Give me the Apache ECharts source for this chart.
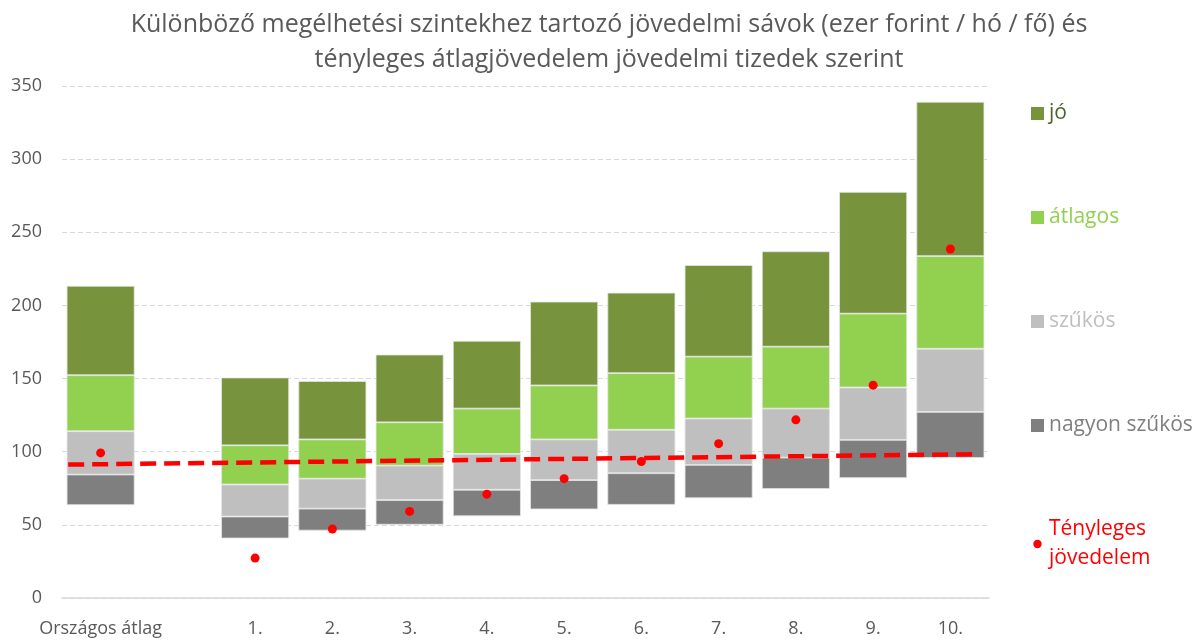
<!DOCTYPE html>
<html>
<head>
<meta charset="utf-8">
<title>Megélhetési szintek</title>
<script src="https://cdn.jsdelivr.net/npm/echarts@6/dist/echarts.min.js"></script>
<style>
  html, body { margin: 0; padding: 0; background: #fff; }
  #chart { width: 1200px; height: 640px; }
</style>
</head>
<body>
<div id="chart"></div>
<script>
// kategóriák (az üres elem a rés az országos átlag és az 1. tized között)
const categories = ["Országos átlag", "", "1.", "2.", "3.", "4.", "5.", "6.", "7.", "8.", "9.", "10."];

// sávhatárok, ezer Ft / hó / fő
const alsoHatar = [63.5, null, 40.7, 46.1, 50.1, 55.9, 60.6, 63.7, 68.2, 74.5, 82.0, 95.7];
const nagyonSzukosTeteje = [84.4, null, 55.7, 61.1, 67.0, 74.0, 80.6, 85.3, 91.0, 96.0, 108.1, 127.2];
const szukosTeteje = [114.0, null, 77.6, 81.6, 90.5, 98.5, 108.4, 115.0, 122.7, 129.5, 143.9, 170.4];
const atlagosTeteje = [152.3, null, 104.4, 108.4, 120.1, 129.5, 145.3, 153.7, 165.0, 171.8, 194.4, 233.7];
const joTeteje = [213.4, null, 150.7, 148.3, 166.4, 175.8, 202.6, 208.7, 227.6, 237.0, 277.6, 339.2];

// tényleges átlagjövedelem
const tenyleges = [99.2, null, 27.3, 47.2, 59.2, 71.0, 81.6, 93.3, 105.5, 121.8, 145.5, 238.6];

// szaggatott vonal két végpontja (kategória-pozíció, érték)
const vonalX = [-0.42, 11.33];
const vonalY = [91.2, 98.3];

const diff = (hi, lo) => hi.map((v, i) => (v == null ? "-" : +(v - lo[i]).toFixed(1)));
const orNull = (arr) => arr.map((v) => (v == null ? "-" : v));

const font = "'Open Sans', 'Liberation Sans', Arial, sans-serif";
const colors = {
  jo: "#77933C",
  atlagos: "#92D050",
  szukos: "#BFBFBF",
  nagyon: "#7F7F7F",
  piros: "#FF0000",
};
// kisebb pont a jelmagyarázatban: a láthatatlan sarokpontok adják a dobozt
const pontIkon = "path://M0 0M14 14M7 2.5A4.5 4.5 0 1 1 6.99 2.5Z";
const keret = { borderColor: "#E6E6E6", borderWidth: 0.8 };

const chart = echarts.init(document.getElementById("chart"));

chart.setOption({
  animation: false,
  textStyle: { fontFamily: font },
  title: {
    text: "Különböző megélhetési szintekhez tartozó jövedelmi sávok (ezer forint / hó / fő) és\ntényleges átlagjövedelem jövedelmi tizedek szerint",
    left: 604,
    textAlign: "center",
    top: 2,
    textStyle: {
      fontFamily: font,
      fontSize: 25,
      fontWeight: "normal",
      color: "#595959",
      lineHeight: 35,
    },
  },
  grid: {
    left: 62,
    right: 211,
    top: 86,
    bottom: 42,
  },
  legend: {
    orient: "vertical",
    left: 1026,
    top: 94,
    itemWidth: 13,
    itemHeight: 13,
    itemGap: 75,
    itemStyle: { borderWidth: 0 },
    textStyle: { fontFamily: font, fontSize: 21, lineHeight: 29 },
    formatter: (name) => (name === "Tényleges jövedelem" ? "Tényleges\njövedelem" : name),
    data: [
      { name: "jó", icon: "rect", textStyle: { color: "#4F6228" } },
      { name: "átlagos", icon: "rect", textStyle: { color: colors.atlagos } },
      { name: "szűkös", icon: "rect", textStyle: { color: colors.szukos } },
      { name: "nagyon szűkös", icon: "rect", textStyle: { color: colors.nagyon } },
      { name: "Tényleges jövedelem", icon: pontIkon, textStyle: { color: colors.piros } },
    ],
  },
  xAxis: [
    {
      type: "category",
      data: categories,
      axisLine: { lineStyle: { color: "#D9D9D9", width: 1.5 } },
      axisTick: { show: false },
      axisLabel: { color: "#595959", fontSize: 18, margin: 22, interval: 0 },
    },
    {
      type: "value",
      min: -0.5,
      max: 11.5,
      show: false,
    },
  ],
  yAxis: {
    type: "value",
    min: 0,
    max: 350,
    interval: 50,
    axisLine: { show: false },
    axisTick: { show: false },
    axisLabel: { color: "#595959", fontSize: 18, margin: 20 },
    splitLine: { lineStyle: { color: "#D9D9D9", type: [5, 3] } },
  },
  series: [
    {
      name: "alap",
      type: "bar",
      stack: "sav",
      barCategoryGap: "12%",
      itemStyle: { color: "transparent" },
      emphasis: { disabled: true },
      data: orNull(alsoHatar),
    },
    {
      name: "nagyon szűkös",
      type: "bar",
      stack: "sav",
      itemStyle: { color: colors.nagyon, ...keret },
      data: diff(nagyonSzukosTeteje, alsoHatar),
    },
    {
      name: "szűkös",
      type: "bar",
      stack: "sav",
      itemStyle: { color: colors.szukos, ...keret },
      data: diff(szukosTeteje, nagyonSzukosTeteje),
    },
    {
      name: "átlagos",
      type: "bar",
      stack: "sav",
      itemStyle: { color: colors.atlagos, ...keret },
      data: diff(atlagosTeteje, szukosTeteje),
    },
    {
      name: "jó",
      type: "bar",
      stack: "sav",
      itemStyle: { color: colors.jo, ...keret },
      data: diff(joTeteje, atlagosTeteje),
    },
    {
      name: "vonal",
      type: "line",
      xAxisIndex: 1,
      symbol: "none",
      z: 5,
      lineStyle: { color: colors.piros, width: 4.5, type: [16, 8] },
      data: vonalX.map((x, i) => [x, vonalY[i]]),
    },
    {
      name: "Tényleges jövedelem",
      type: "scatter",
      symbolSize: 9,
      z: 6,
      itemStyle: { color: colors.piros, opacity: 1 },
      data: orNull(tenyleges),
    },
  ],
});
</script>
</body>
</html>
